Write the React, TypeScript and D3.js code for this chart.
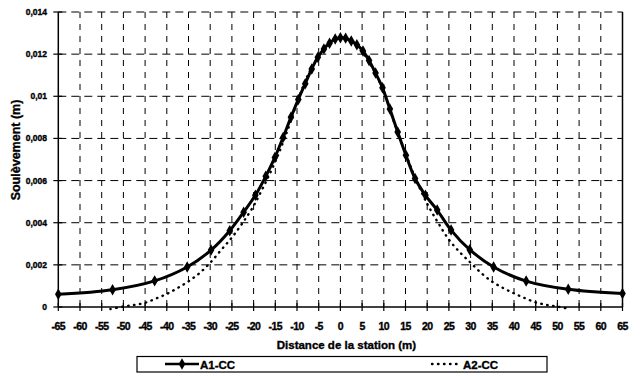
import React from "react";
import * as d3 from "d3";

// A1-CC (line with diamond markers)
const a1X = [-65, -52.5, -42.8, -35.3, -29.8, -25.5, -22.3, -19.6, -17.2, -15.1, -13.2, -11.4, -9.7, -8.1, -6.6, -5.2, -3.8, -2.5, -1.2, 0, 1.2, 2.5, 3.8, 5.2, 6.6, 8.1, 9.7, 11.4, 13.2, 15.1, 17.2, 19.6, 22.3, 25.5, 29.8, 35.3, 42.8, 52.5, 65];
const a1Y = [0.0006, 0.00082, 0.00124, 0.0019, 0.0027, 0.00362, 0.0045, 0.0053, 0.0062, 0.0071, 0.00805, 0.0090, 0.00985, 0.0106, 0.0113, 0.01185, 0.01225, 0.01252, 0.01272, 0.01278, 0.01276, 0.01262, 0.01245, 0.01215, 0.0117, 0.0111, 0.0104, 0.0094, 0.0083, 0.0072, 0.0061, 0.0053, 0.0046, 0.00365, 0.00272, 0.0019, 0.00123, 0.00084, 0.00064];

// A2-CC (dotted line)
const a2X = [-53, -50, -47.5, -45, -42.5, -40, -37.5, -35, -32.5, -30, -27.5, -25, -22.5, -20, -17.5, -15, -12.5, -10, -7.5, -5, -2.5, 0, 2.5, 5, 7.5, 10, 12.5, 15, 17.5, 20, 22.5, 25, 27.5, 30, 32.5, 35, 37.5, 40, 42.5, 45, 47.5, 50, 53];
const a2Y = [-0.0001, 0.00002, 0.0001, 0.0002, 0.0004, 0.00062, 0.0009, 0.00122, 0.0016, 0.0021, 0.0027, 0.0033, 0.004, 0.0048, 0.0058, 0.0069, 0.0082, 0.0097, 0.011, 0.0119, 0.01255, 0.01278, 0.0126, 0.0121, 0.0113, 0.0102, 0.0087, 0.0073, 0.006, 0.0049, 0.004, 0.0032, 0.0026, 0.0021, 0.0016, 0.0012, 0.0009, 0.00065, 0.00042, 0.00022, 0.0001, 0.00002, -0.0001];

const xTicks = d3.range(-65, 66, 5);
const yTicks = [0, 0.002, 0.004, 0.006, 0.008, 0.01, 0.012, 0.014];
const seriesNames = ["A1-CC", "A2-CC"];
const xTitle = "Distance de la station (m)";
const yTitle = "Soulèvement (m)";

const W = 641, H = 376;
const L = 58.3, R = 622.5, T = 12, B = 307;
const FONT = "'Liberation Sans', Arial, sans-serif";

export default function App() {
  const x = d3.scaleLinear().domain([-65, 65]).range([L, R]);
  const y = d3.scaleLinear().domain([0, 0.014]).range([B, T]);
  const l1 = d3.line<[number, number]>().x(d => x(d[0])).y(d => y(d[1])).curve(d3.curveCatmullRom.alpha(0.5));
  const p1: [number, number][] = a1X.map((v, i) => [v, a1Y[i]]);
  const p2: [number, number][] = a2X.map((v, i) => [v, a2Y[i]]);
  const fmtY = (v: number) => (v === 0 ? "0" : String(+v.toFixed(3)).replace(".", ","));
  const diamond = d3.symbol().type(d3.symbolDiamond).size(38)();
  const heavy = { stroke: "#000", strokeWidth: 0.35 };
  return (
    <svg width={W} height={H} style={{ position: "absolute", left: 0, top: 0, background: "#fff" }}>
      <rect x={0} y={0} width={W} height={H} fill="#fff" />
      {/* gridlines */}
      {xTicks.slice(1, -1).map(t => (
        <line key={"gx" + t} x1={x(t)} x2={x(t)} y1={T} y2={B} stroke="#000" strokeWidth={1} strokeDasharray="6,6" />
      ))}
      {yTicks.slice(1).map(t => (
        <line key={"gy" + t} x1={L} x2={R} y1={y(t)} y2={y(t)} stroke="#000" strokeWidth={1} strokeDasharray="8,5" />
      ))}
      {/* axes */}
      <line x1={L} x2={L} y1={T} y2={B} stroke="#000" strokeWidth={1.5} />
      <line x1={R} x2={R} y1={T} y2={B} stroke="#000" strokeWidth={1.5} />
      <line x1={L} x2={R} y1={B} y2={B} stroke="#000" strokeWidth={1.5} />
      {xTicks.map(t => (
        <line key={"tx" + t} x1={x(t)} x2={x(t)} y1={B - 4} y2={B + 4} stroke="#000" strokeWidth={1.2} />
      ))}
      {yTicks.map(t => (
        <line key={"ty" + t} x1={L - 5} x2={L + 4} y1={y(t)} y2={y(t)} stroke="#000" strokeWidth={1.2} />
      ))}
      {xTicks.map(t => (
        <text key={"lx" + t} x={x(t)} y={329.5} textAnchor="middle" fontFamily={FONT} fontWeight="bold" fontSize={10.5} letterSpacing={-0.6} {...heavy}>{String(t)}</text>
      ))}
      {yTicks.map(t => (
        <text key={"ly" + t} x={47} y={y(t) + 3} textAnchor="end" fontFamily={FONT} fontWeight="bold" fontSize={8.5} {...heavy}>{fmtY(t)}</text>
      ))}
      {/* series */}
      <path d={l1(p2) || ""} fill="none" stroke="#000" strokeWidth={2.4} strokeDasharray="0.5,5.5" strokeLinecap="round" />
      <path d={l1(p1) || ""} fill="none" stroke="#000" strokeWidth={3} />
      {p1.map((d, i) => (
        <path key={"m" + i} d={diamond || ""} transform={`translate(${x(d[0])},${y(d[1])})`} fill="#000" />
      ))}
      {/* titles */}
      <text x={x(0) + 6} y={349} textAnchor="middle" fontFamily={FONT} fontWeight="bold" fontSize={11.5} {...heavy}>{xTitle}</text>
      <text transform={`translate(20,${150}) rotate(-90)`} textAnchor="middle" fontFamily={FONT} fontWeight="bold" fontSize={12.5} {...heavy}>{yTitle}</text>
      {/* legend */}
      <rect x={137} y={356.5} width={410} height={15.5} fill="#fff" stroke="#000" strokeWidth={1.2} />
      <line x1={165} x2={199} y1={364} y2={364} stroke="#000" strokeWidth={2.5} />
      <path d={diamond || ""} transform="translate(182,364)" fill="#000" />
      <text x={200} y={368.5} fontFamily={FONT} fontWeight="bold" fontSize={11.5} {...heavy}>{seriesNames[0]}</text>
      <line x1={432} x2={462} y1={364} y2={364} stroke="#000" strokeWidth={2.4} strokeDasharray="0.5,5.5" strokeLinecap="round" />
      <text x={463} y={368.5} fontFamily={FONT} fontWeight="bold" fontSize={11.5} {...heavy}>{seriesNames[1]}</text>
    </svg>
  );
}
